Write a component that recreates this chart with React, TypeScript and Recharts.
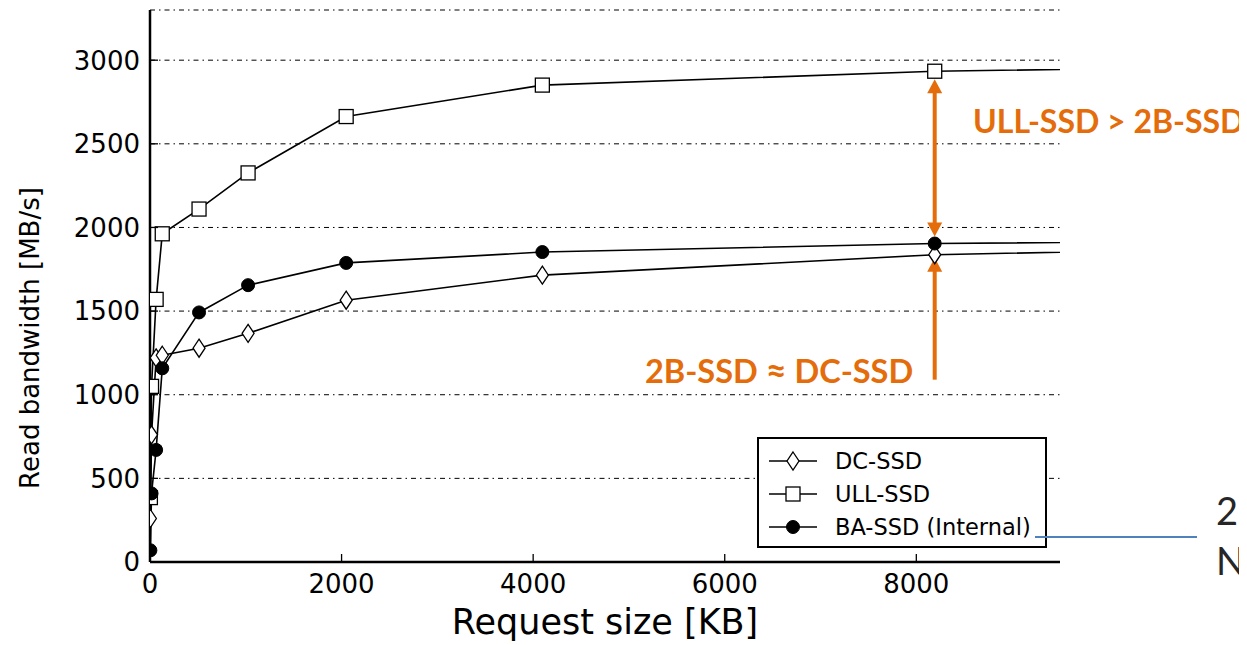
import { CartesianGrid, Legend, Line, LineChart, ReferenceLine, XAxis, YAxis } from "recharts";

const requestSizes = [4, 16, 64, 128, 512, 1024, 2048, 4096, 8192, 16384];
const dcSsd = [260, 760, 1220, 1236, 1278, 1367, 1565, 1715, 1837, 1930];
const ullSsd = [385, 1050, 1570, 1962, 2110, 2326, 2663, 2851, 2934, 3000];
const baSsd = [70, 410, 670, 1158, 1492, 1655, 1788, 1853, 1904, 1940];

const xTicks = [0, 2000, 4000, 6000, 8000];
const yTicks = [0, 500, 1000, 1500, 2000, 2500, 3000];
const X_MAX = 9500;
const Y_MAX = 3300;

// point the orange arrows sit on, and where the lower arrow starts
const markIdx = requestSizes.indexOf(8192);
const ARROW_BASE = 1090;

const rows = requestSizes.map((size, i) => ({ size, dc: dcSsd[i], ull: ullSsd[i], ba: baSsd[i] }));

const FONT = "'DejaVu Sans', sans-serif";
const ORANGE = "#E46C0A";

function diamond(cx: number, cy: number, key?: any) {
  return (
    <path key={key} d={`M${cx},${cy - 9}L${cx + 6},${cy}L${cx},${cy + 9}L${cx - 6},${cy}Z`} fill="#fff" stroke="#000" strokeWidth={1.3} />
  );
}
function square(cx: number, cy: number, key?: any) {
  return <rect key={key} x={cx - 7} y={cy - 7} width={14} height={14} fill="#fff" stroke="#000" strokeWidth={1.3} />;
}
function circle(cx: number, cy: number, key?: any) {
  return <circle key={key} cx={cx} cy={cy} r={6.5} fill="#000" stroke="#000" />;
}

const dotOf = (draw: (cx: number, cy: number, key?: any) => any) => (p: any) => {
  if (p.payload.size > X_MAX || p.cx == null) return <g key={p.index} />;
  return draw(p.cx, p.cy, p.index);
};

const BottomTick = ({ x, y, payload }: any) => (
  <g>
    <line x1={x} x2={x} y1={y} y2={y - 8} stroke="#000" strokeWidth={1.3} />
    <text x={x} y={y + 31} textAnchor="middle" fontSize={26} fontFamily={FONT} fill="#000">{payload.value}</text>
  </g>
);
const TopTick = ({ x, y }: any) => <line x1={x} x2={x} y1={y} y2={y + 8} stroke="#000" strokeWidth={1.3} />;
const LeftTick = ({ x, y, payload }: any) => (
  <g>
    <line x1={x} x2={x + 8} y1={y} y2={y} stroke="#000" strokeWidth={1.3} />
    <text x={x - 10} y={y} dy="0.36em" textAnchor="end" fontSize={26} fontFamily={FONT} fill="#000">{payload.value}</text>
  </g>
);
const RightTick = ({ x, y }: any) => <line x1={x} x2={x - 8} y1={y} y2={y} stroke="#000" strokeWidth={1.3} />;

function head(x: number, tipY: number, dir: number) {
  // dir = -1 points up, 1 points down
  const base = tipY - dir * 14;
  return <path d={`M${x},${tipY}L${x - 7.5},${base}L${x + 7.5},${base}Z`} fill={ORANGE} />;
}

const DoubleArrow = (p: any) => {
  const top = Math.min(p.y1, p.y2) + 8;
  const bot = Math.max(p.y1, p.y2) - 7;
  return (
    <g>
      <line x1={p.x1} x2={p.x1} y1={top + 10} y2={bot - 10} stroke={ORANGE} strokeWidth={4} />
      {head(p.x1, top, -1)}
      {head(p.x1, bot, 1)}
    </g>
  );
};
const UpArrow = (p: any) => {
  const tip = Math.min(p.y1, p.y2) + 3;
  const bot = Math.max(p.y1, p.y2);
  return (
    <g>
      <line x1={p.x1} x2={p.x1} y1={tip + 10} y2={bot} stroke={ORANGE} strokeWidth={4} />
      {head(p.x1, tip, -1)}
    </g>
  );
};

const legendItems = [
  { name: "DC-SSD", draw: diamond },
  { name: "ULL-SSD", draw: square },
  { name: "BA-SSD (Internal)", draw: circle },
];

const LegendBox = () => (
  <div style={{ width: 286, height: 107, border: "2px solid #000", background: "#fff", position: "relative", fontFamily: FONT }}>
    {legendItems.map((it, i) => (
      <div key={it.name} style={{ position: "absolute", left: 0, top: 7 + i * 33, height: 30, display: "flex", alignItems: "center" }}>
        <svg width={68} height={30} style={{ display: "block" }}>
          <line x1={10} x2={58} y1={15} y2={15} stroke="#000" strokeWidth={1.5} />
          {it.draw(34, 15)}
        </svg>
        <span style={{ fontSize: 22.5, marginLeft: 8, color: "#000", whiteSpace: "nowrap" }}>{it.name}</span>
      </div>
    ))}
  </div>
);

export default function App() {
  return (
    <div style={{ position: "relative", width: 1239, height: 637, overflow: "hidden", background: "#fff" }}>
      <LineChart width={1239} height={637} data={rows} margin={{ top: 2, right: 187, bottom: 0, left: 0 }}>
        <CartesianGrid vertical={false} xAxisId="b" yAxisId="l" stroke="#000" strokeDasharray="5 4 1.5 4" strokeWidth={1} />
        <XAxis
          xAxisId="b"
          dataKey="size"
          type="number"
          domain={[0, X_MAX]}
          allowDataOverflow
          ticks={xTicks}
          tickSize={0}
          tickMargin={0}
          tick={BottomTick}
          height={83}
          axisLine={{ stroke: "#000", strokeWidth: 2.5 }}
          label={{ value: "Request size [KB]", position: "insideBottom", offset: 11, fontSize: 35, fontFamily: FONT, fill: "#000" }}
        />
        <XAxis
          xAxisId="t"
          orientation="top"
          dataKey="size"
          type="number"
          domain={[0, X_MAX]}
          allowDataOverflow
          ticks={xTicks}
          tickSize={0}
          tickMargin={0}
          tick={TopTick}
          height={0}
          axisLine={{ stroke: "#000", strokeWidth: 2.5 }}
        />
        <YAxis
          yAxisId="l"
          type="number"
          domain={[0, Y_MAX]}
          allowDataOverflow
          ticks={yTicks}
          tickSize={0}
          tickMargin={0}
          tick={LeftTick}
          width={142}
          axisLine={{ stroke: "#000", strokeWidth: 2.5 }}
          label={{
            content: ({ viewBox }: any) => {
              const cx = viewBox.x + 22;
              const cy = viewBox.y + viewBox.height / 2 + 52;
              return (
                <text x={cx} y={cy} transform={`rotate(-90, ${cx}, ${cy})`} textAnchor="middle" dy="0.36em" fontSize={26} fontFamily={FONT} fill="#000">
                  Read bandwidth [MB/s]
                </text>
              );
            },
          }}
        />
        <YAxis
          yAxisId="r"
          orientation="right"
          type="number"
          domain={[0, Y_MAX]}
          allowDataOverflow
          ticks={yTicks}
          tickSize={0}
          tickMargin={0}
          tick={RightTick}
          width={0}
          axisLine={{ stroke: "#000", strokeWidth: 2.5 }}
        />
        <Line xAxisId="b" yAxisId="l" type="linear" dataKey="dc" name="DC-SSD" stroke="#000" strokeWidth={1.6} dot={dotOf(diamond)} isAnimationActive={false} />
        <Line xAxisId="b" yAxisId="l" type="linear" dataKey="ull" name="ULL-SSD" stroke="#000" strokeWidth={1.6} dot={dotOf(square)} isAnimationActive={false} />
        <Line xAxisId="b" yAxisId="l" type="linear" dataKey="ba" name="BA-SSD (Internal)" stroke="#000" strokeWidth={1.6} dot={dotOf(circle)} isAnimationActive={false} />
        <ReferenceLine
          xAxisId="b"
          yAxisId="l"
          segment={[
            { x: requestSizes[markIdx], y: ullSsd[markIdx] },
            { x: requestSizes[markIdx], y: baSsd[markIdx] },
          ]}
          shape={DoubleArrow}
        />
        <ReferenceLine
          xAxisId="b"
          yAxisId="l"
          segment={[
            { x: requestSizes[markIdx], y: dcSsd[markIdx] },
            { x: requestSizes[markIdx], y: ARROW_BASE },
          ]}
          shape={UpArrow}
        />
        <Legend
          layout="horizontal"
          verticalAlign="middle"
          align="center"
          content={LegendBox}
          wrapperStyle={{ position: "absolute", left: 749, top: 429, width: 290, height: 111 }}
        />
      </LineChart>
      <div style={{ position: "absolute", left: 965, top: 97, fontFamily: "Lato, 'Open Sans', sans-serif", fontWeight: 700, fontSize: 32, lineHeight: 1, color: ORANGE, whiteSpace: "nowrap" }}>
        ULL-SSD &gt; 2B-SSD
      </div>
      <div style={{ position: "absolute", left: 637, top: 343, fontFamily: "Lato, 'Open Sans', sans-serif", fontWeight: 700, fontSize: 32.5, lineHeight: 1, color: ORANGE, whiteSpace: "nowrap" }}>
        2B-SSD <span style={{ fontSize: 36 }}>≈</span> DC-SSD
      </div>
      <div style={{ position: "absolute", left: 1027, top: 528, width: 162, height: 1.5, background: "#4F81BD" }} />
      <div style={{ position: "absolute", left: 1208, top: 483, fontFamily: "Lato, sans-serif", fontSize: 38, lineHeight: 1, color: "#262626", whiteSpace: "nowrap", letterSpacing: -1 }}>
        2B-SSD
      </div>
      <div style={{ position: "absolute", left: 1208, top: 533, fontFamily: "Lato, sans-serif", fontSize: 38, lineHeight: 1, color: "#262626", whiteSpace: "nowrap" }}>
        NVMe
      </div>
    </div>
  );
}
